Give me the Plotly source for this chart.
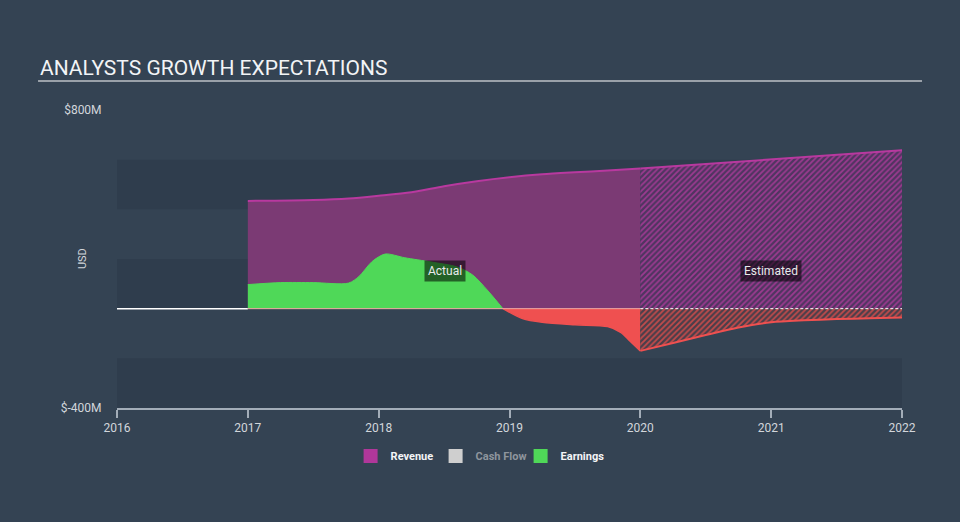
import plotly.graph_objects as go

# ---------------- data (USD millions) ----------------
rev_actual_x = [2017.0, 2017.5, 2017.77, 2018.0, 2018.25, 2018.5, 2018.75, 2019.0, 2019.25, 2019.5, 2019.75, 2020.0]
rev_actual_y = [434, 438, 444, 455, 469, 493, 513, 529, 541, 549, 556, 564]
rev_est_x = [2020.0, 2021.0, 2022.0]
rev_est_y = [564, 602, 638]

earn_pos_x = [2017.0, 2017.25, 2017.5, 2017.77, 2017.85, 2017.95, 2018.05, 2018.2, 2018.4, 2018.6, 2018.72, 2018.83, 2018.95]
earn_pos_y = [97, 105, 105, 103, 130, 190, 220, 205, 188, 168, 135, 75, 0]
earn_neg_x = [2018.95, 2019.1, 2019.25, 2019.5, 2019.75, 2019.85, 2019.92, 2020.0]
earn_neg_y = [0, -40, -55, -65, -72, -95, -130, -170]
earn_est_x = [2020.0, 2020.25, 2020.5, 2020.75, 2021.0, 2021.25, 2021.5, 2021.75, 2022.0]
earn_est_y = [-170, -138, -106, -76, -55, -47, -42, -39, -36]

year_ticks = [2016, 2017, 2018, 2019, 2020, 2021, 2022]
y_ticks = [-400, 800]
y_ticktext = ["$-400M", "$800M"]
band_edges = [-400, -200, 0, 200, 400, 600]
legend_names = ["Revenue", "Cash Flow", "Earnings"]

BG = "#344353"
BAND = "#2f3d4d"
TXT = "#d2d6db"
FONT = "Roboto"

fig = go.Figure()

# revenue actual
fig.add_trace(go.Scatter(x=rev_actual_x, y=rev_actual_y, mode="lines", fill="tozeroy",
                         line=dict(color="#b8399f", width=2, shape="spline", smoothing=0.8),
                         fillcolor="#7b3a74", showlegend=False, hoverinfo="skip"))
# revenue estimated (hatched)
fig.add_trace(go.Scatter(x=rev_est_x, y=rev_est_y, mode="lines", fill="tozeroy",
                         line=dict(color="#b8399f", width=2),
                         fillcolor="#4f3560",
                         fillpattern=dict(shape="/", fgcolor="#9c3a90", bgcolor="#4f3560",
                                          size=4, solidity=0.45, fillmode="replace"),
                         showlegend=False, hoverinfo="skip"))
# earnings positive
fig.add_trace(go.Scatter(x=earn_pos_x, y=earn_pos_y, mode="lines", fill="tozeroy",
                         line=dict(color="#4fd858", width=1, shape="spline", smoothing=0.8),
                         fillcolor="#4fd858", showlegend=False, hoverinfo="skip"))
# earnings negative actual
fig.add_trace(go.Scatter(x=earn_neg_x, y=earn_neg_y, mode="lines", fill="tozeroy",
                         line=dict(color="#ef5050", width=1.5, shape="spline", smoothing=0.8),
                         fillcolor="#ef5050", showlegend=False, hoverinfo="skip"))
# earnings estimated (hatched)
fig.add_trace(go.Scatter(x=earn_est_x, y=earn_est_y, mode="lines", fill="tozeroy",
                         line=dict(color="#ef5050", width=2, shape="spline", smoothing=0.8),
                         fillcolor="#4a3e4a",
                         fillpattern=dict(shape="/", fgcolor="#c24b4b", bgcolor="#4a3e4a",
                                          size=4, solidity=0.45, fillmode="replace"),
                         showlegend=False, hoverinfo="skip"))

# zero lines
fig.add_trace(go.Scatter(x=[2016, 2017], y=[0, 0], mode="lines",
                         line=dict(color="#ffffff", width=1.5), showlegend=False, hoverinfo="skip"))
fig.add_trace(go.Scatter(x=[2017, 2020], y=[0, 0], mode="lines",
                         line=dict(color="#f4aaa6", width=1), showlegend=False, hoverinfo="skip"))
fig.add_trace(go.Scatter(x=[2020, 2022], y=[0, 0], mode="lines",
                         line=dict(color="#ffffff", width=1, dash="3px,2px"), showlegend=False, hoverinfo="skip"))

# legend entries
fig.add_trace(go.Scatter(x=[None], y=[None], mode="markers", name="<b>" + legend_names[0] + "</b>",
                         marker=dict(symbol="square", size=14, color="#b0379a")))
fig.add_trace(go.Scatter(x=[None], y=[None], mode="markers",
                         name="<span style='color:#8e959d'><b>" + legend_names[1] + "</b></span>",
                         marker=dict(symbol="square", size=14, color="#cfcfcf")))
fig.add_trace(go.Scatter(x=[None], y=[None], mode="markers", name="<b>" + legend_names[2] + "</b>",
                         marker=dict(symbol="square", size=14, color="#4fd858")))

shapes = []
for i in range(0, len(band_edges) - 1, 2):
    shapes.append(dict(type="rect", xref="x", yref="y", x0=year_ticks[0], x1=year_ticks[-1],
                       y0=band_edges[i], y1=band_edges[i + 1], fillcolor=BAND, line=dict(width=0),
                       layer="below"))
# title underline
shapes.append(dict(type="line", xref="paper", yref="paper", x0=-0.1006, x1=1.0255, y0=1.0973, y1=1.0973,
                   line=dict(color="#9aa1a9", width=2)))

annotations = [
    dict(text="ANALYSTS GROWTH EXPECTATIONS", xref="paper", yref="paper", x=-0.1006, y=1.141,
         xanchor="left", yanchor="middle", showarrow=False, font=dict(family=FONT, size=21, color="#f2f4f6")),
    dict(text="USD", xref="paper", yref="paper", x=-0.0446, y=0.503, textangle=-90,
         xanchor="center", yanchor="middle", showarrow=False, font=dict(family=FONT, size=11, color=TXT)),
    dict(text="Actual", x=2018.51, y=150, xref="x", yref="y", showarrow=False,
         bgcolor="rgba(0,0,0,0.55)", borderpad=3, font=dict(family=FONT, size=12, color="#e8eaec")),
    dict(text="Estimated", x=2021.0, y=150, xref="x", yref="y", showarrow=False,
         bgcolor="rgba(0,0,0,0.55)", borderpad=3, font=dict(family=FONT, size=12, color="#e8eaec")),
]

fig.update_layout(
    width=960, height=522,
    margin=dict(l=117, r=58, t=110, b=114),
    paper_bgcolor=BG, plot_bgcolor=BG,
    font=dict(family=FONT, color=TXT, size=12),
    shapes=shapes, annotations=annotations,
    showlegend=True,
    legend=dict(orientation="h", x=0.46, xanchor="center", y=-0.161, yanchor="middle",
                font=dict(family=FONT, size=11, color="#f4f5f7"), itemsizing="trace",
                entrywidth=40, entrywidthmode="pixels",
                bgcolor="rgba(0,0,0,0)"),
    xaxis=dict(range=[year_ticks[0], year_ticks[-1]], tickvals=year_ticks, ticktext=[str(t) for t in year_ticks],
               showgrid=False, zeroline=False, showline=True, linecolor="#a3adb8", linewidth=1.5,
               ticks="outside", ticklen=8, tickcolor="#a3adb8", tickwidth=1.5,
               tickfont=dict(family=FONT, size=12, color=TXT)),
    yaxis=dict(range=[-400, 800], tickvals=y_ticks, ticktext=y_ticktext, showgrid=False, zeroline=False,
               showline=False, ticks="outside", ticklen=12, tickcolor="rgba(0,0,0,0)",
               tickfont=dict(family=FONT, size=12, color=TXT)),
    hovermode=False,
)

fig.write_html("out.html", config={"displayModeBar": False},
               post_script="document.body.style.margin='0';document.body.style.overflow='hidden';document.body.style.background='" + BG + "';")
